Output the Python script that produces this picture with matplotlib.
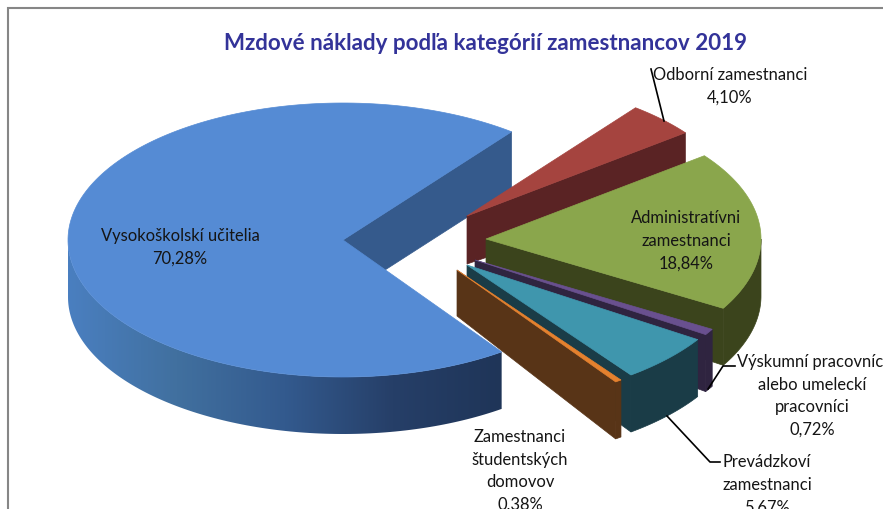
# Exploded 3D pie of wage costs, projected by hand onto an ellipse
from matplotlib import pyplot as plt
from matplotlib.colors import LinearSegmentedColormap
from matplotlib.patches import Polygon
import numpy as np

plt.rcParams['font.family'] = ['Lato', 'DejaVu Sans']

title = 'Mzdové náklady podľa kategórií zamestnancov 2019'
categories = ['Vysokoškolskí učitelia', 'Odborní zamestnanci',
              'Administratívni\nzamestnanci',
              'Výskumní pracovníci\nalebo umeleckí\npracovníci',
              'Prevádzkoví\nzamestnanci',
              'Zamestnanci\nštudentských\ndomovov']
values = [70.28, 4.10, 18.84, 0.72, 5.67, 0.38]

top_colors = ['#558bd4', '#a5443f', '#8aa64c', '#69508f', '#3f96ad', '#e5812e']
side_colors = ['#355a8c', '#5a2324', '#3b441c', '#2f2440', '#1a3c47', '#583417']

# layout, in pixels
cx, cy = 343, 241
rx, ry = 275, 137
depth = 57
apex_depth = [57, 48, 48, 48, 48, 46]
explode = [(0, 0), (124, -24), (143, -1), (132, 20), (124, 25), (114, 30)]
first_angle = 52.2                 # where the second slice starts, degrees
label_pos = [(180, 247), (730, 86), (686, 241), (812, 396), (767, 485), (520, 471)]

# Slices run clockwise, the big one ends at first_angle
spans = np.array(values)/sum(values)*360
edges = first_angle - np.r_[0, np.cumsum(spans[1:])]

fig = plt.figure(figsize=(8.83, 5.10), dpi=100)
ax = fig.add_axes([0, 0, 1, 1])
ax.axis('off')


def rim_xy(a, ox, oy):
    t = np.radians(a)
    return cx + ox + rx*np.cos(t), cy + oy - ry*np.sin(t)


def draw_side(i, a):
    # flat cut face between the apex and the rim at angle a
    ox, oy = explode[i]
    x, y = rim_xy(a, ox, oy)
    ax.add_patch(Polygon([(cx+ox, cy+oy), (x, y), (x, y+depth), (cx+ox, cy+oy+apex_depth[i])],
                         closed=True, fc=side_colors[i], ec=side_colors[i], lw=0.5))


def rim_patch(i, a0, a1, color):
    # outer wall from a0 down to a1
    ox, oy = explode[i]
    x, y = rim_xy(np.linspace(a0, a1, 120), ox, oy)
    pts = np.r_[np.c_[x, y], np.c_[x, y+depth][::-1]]
    patch = Polygon(pts, closed=True, fc=color, ec=color, lw=0.5)
    ax.add_patch(patch)
    return patch


def draw_top(i, a0, a1):
    ox, oy = explode[i]
    x, y = rim_xy(np.linspace(a0, a1, 200), ox, oy)
    pts = np.r_[[(cx+ox, cy+oy)], np.c_[x, y]]
    ax.add_patch(Polygon(pts, closed=True, fc=top_colors[i], ec=top_colors[i], lw=0.5))


# back to front
blue_end = edges[-1] + 360
draw_side(0, first_angle)
wall = rim_patch(0, 180, blue_end, 'none')
blues = LinearSegmentedColormap.from_list('wall', ['#4a7fc0', '#41709f', '#335a8e', '#263f68', '#1f3558'])
im = ax.imshow(np.linspace(0, 1, 256).reshape(1, -1), cmap=blues, aspect='auto',
               extent=(cx-rx, rim_xy(blue_end, 0, 0)[0], 510, 0), zorder=1)
im.set_clip_path(wall)
draw_top(0, first_angle, first_angle + spans[0])
ax.patches[-1].set_zorder(2)

for i in range(1, len(values)):
    a0, a1 = edges[i-1], edges[i]
    draw_side(i, a1)
    if a1 < 0:
        rim_patch(i, min(a0, 0), a1, side_colors[i])
    draw_top(i, a0, a1)
for p in ax.patches[2:]:
    p.set_zorder(3)
ax.patches[0].set_zorder(0.5)

ax.set_xlim(0, 883)
ax.set_ylim(510, 0)

# chart frame, open on the right and at the bottom
ax.plot([8, 8, 883], [510, 9, 9], color='#868686', lw=1.5, solid_joinstyle='miter', zorder=4)

# leader lines
ax.plot([651, 664], [70, 122], color='black', lw=1.2, zorder=4)
ax.plot([708, 723, 735], [390, 367, 367], color='black', lw=1.2, zorder=4)
ax.plot([667, 710, 720], [417, 463, 463], color='black', lw=1.2, zorder=4)

ax.text(486, 43, title, ha='center', va='center', fontsize=16.1, fontweight='bold',
        color='#333399', zorder=5)

for i in range(len(values)):
    txt = categories[i] + '\n' + f'{values[i]:.2f}'.replace('.', ',') + '%'
    ax.text(label_pos[i][0], label_pos[i][1], txt, ha='center', va='center',
            fontsize=11.9, color='#151515', linespacing=1.5, zorder=5)

fig.savefig('out.png', dpi=100)
